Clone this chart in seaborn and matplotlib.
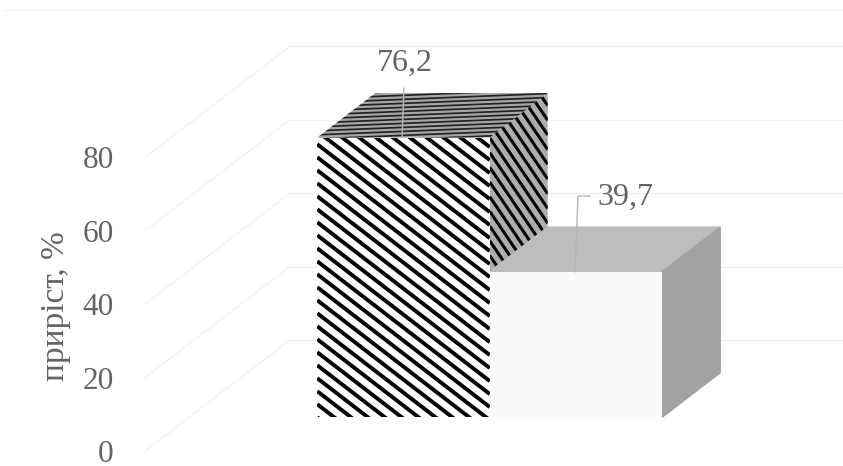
import matplotlib
matplotlib.use("Agg")
import numpy as np
import matplotlib.pyplot as plt
import seaborn as sns
from matplotlib.collections import LineCollection
from matplotlib.patches import Polygon
from matplotlib.transforms import IdentityTransform

# ---- data ----
categories = ["A", "B"]
values = [76.2, 39.7]
value_labels = ["76,2", "39,7"]
y_ticks = [0, 20, 40, 60, 80]
y_label = "приріст, %"

# ---- style ----
W, H, DPI = 843, 466, 100
TEXT = "#636363"
GRID = "#efefef"
FLOOR_BAR = 9.2        # front of bars above axis floor (value units)
WALL = 30.25           # back wall above axis floor (value units)
PX_PER_VALUE = 3.67
CAT_PX = 172.5

sns.set_theme(style="white")
plt.rcParams["font.family"] = ["Liberation Serif", "DejaVu Serif"]

fig = plt.figure(figsize=(W / DPI, H / DPI), dpi=DPI, facecolor="white")
AX_L = 118
ax = fig.add_axes([AX_L / W, 0, 1 - AX_L / W, 1])
ax.set_facecolor("none")


def x_of(px):
    return (px - 403.5) / CAT_PX


def y_of(py):
    return (451 - py) / PX_PER_VALUE


# bars through seaborn (front faces)
sns.barplot(x=categories, y=values, hue=categories, palette=["white", "#fafafa"],
            width=1.0, bottom=FLOOR_BAR, legend=False, ax=ax, zorder=4,
            linewidth=0, native_scale=False)
ax.set_xlim(x_of(AX_L), x_of(W))
ax.set_ylim(y_of(H), y_of(0))

DX = 58 / CAT_PX
DY = 44.5 / PX_PER_VALUE


def stripes(poly, slope, period, lw, color, z):
    """Parallel display-space lines clipped to a polygon; period is measured along y."""
    pts = ax.transData.transform(poly.get_xy())
    xmin, ymin = pts.min(axis=0)
    xmax, ymax = pts.max(axis=0)
    c0 = ymin - max(0, slope) * (xmax - xmin) - 2 * period
    c1 = ymax - min(0, slope) * (xmax - xmin) + 2 * period
    segs = [[(xmin, c), (xmax, c + slope * (xmax - xmin))] for c in np.arange(c0, c1, period)]
    lc = LineCollection(segs, colors=color, linewidths=lw, transform=IdentityTransform(), zorder=z)
    ax.add_collection(lc, autolim=False)
    lc.set_clip_path(poly)


faces = []
bars = list(ax.patches)
for i, bar in enumerate(bars):
    x0, x1 = bar.get_x(), bar.get_x() + bar.get_width()
    y0, y1 = bar.get_y(), bar.get_y() + bar.get_height()
    z = 2 if i == 0 else 3
    top_col = "#a6a6a6" if i == 0 else "#bdbdbd"
    side_col = "#adadad" if i == 0 else "#a3a2a0"
    top = Polygon([(x0, y1), (x1, y1), (x1 + DX, y1 + DY), (x0 + DX, y1 + DY)], closed=True,
                  facecolor=top_col, edgecolor=top_col, linewidth=1.0 if i else 0, zorder=z)
    side = Polygon([(x1, y0), (x1 + DX, y0 + DY), (x1 + DX, y1 + DY), (x1, y1)], closed=True,
                   facecolor=side_col, edgecolor=side_col, linewidth=1.0 if i else 0, zorder=z)
    ax.add_patch(top)
    ax.add_patch(side)
    faces.append((bar, top, side))

# first bar is patterned on all three faces
fig.canvas.draw()
front0, top0, side0 = faces[0]
x0, y0 = front0.get_x(), front0.get_y()
x1, y1 = x0 + front0.get_width(), y0 + front0.get_height()
front_poly = Polygon([(x0, y0), (x1, y0), (x1, y1), (x0, y1)], closed=True, facecolor="white",
                     edgecolor="none", zorder=4.1)
ax.add_patch(front_poly)
stripes(front_poly, -0.77, 13.0, 2.8, "black", 4.2)
stripes(side0, -1.47, 14.7, 2.2, "black", 2.2)
stripes(top0, 0.04, 4.0, 1.25, "#222222", 2.2)

# floor diagonals and back-wall grid, anchored to the value ticks
for v in y_ticks:
    ax.plot([x_of(145), x_of(290)], [v, v + WALL], color="#f3f3f3", lw=1.0, zorder=1, clip_on=False)
    ax.plot([x_of(290), x_of(W)], [v + WALL, v + WALL], color=GRID, lw=1.0, zorder=1)

# top frame line
ax.plot([x_of(5), x_of(W)], [y_of(9.5), y_of(9.5)], color="#f3f3f3", lw=1.0, zorder=1, clip_on=False)

# y axis
ax.set_yticks(y_ticks)
ax.set_yticklabels([str(t) for t in y_ticks], fontsize=22.5, color=TEXT, va="center_baseline")
ax.tick_params(axis="y", length=0, pad=3)
ax.set_xticks([])
ax.set_xlabel("")
ax.set_ylabel(y_label, fontsize=24, color=TEXT)
ax.yaxis.set_label_coords((71 - AX_L) / (W - AX_L), 1 - 306 / H)
sns.despine(ax=ax, left=True, bottom=True, right=True, top=True)

# value labels and leader lines
label_px = [(405, 63), (625, 197)]
leaders = [[(404, 88), (402, 138)], [(590, 196), (578, 196), (575, 272)]]
for i, txt in enumerate(value_labels):
    ax.text(x_of(label_px[i][0]), y_of(label_px[i][1]), txt, fontsize=23, color=TEXT,
            ha="center", va="center", zorder=6)
    xs = [x_of(p[0]) for p in leaders[i]]
    ys = [y_of(p[1]) for p in leaders[i]]
    ax.plot(xs, ys, color="#b5b5b5", lw=1.0, zorder=5)

fig.savefig("out.png", dpi=DPI, facecolor="white")
